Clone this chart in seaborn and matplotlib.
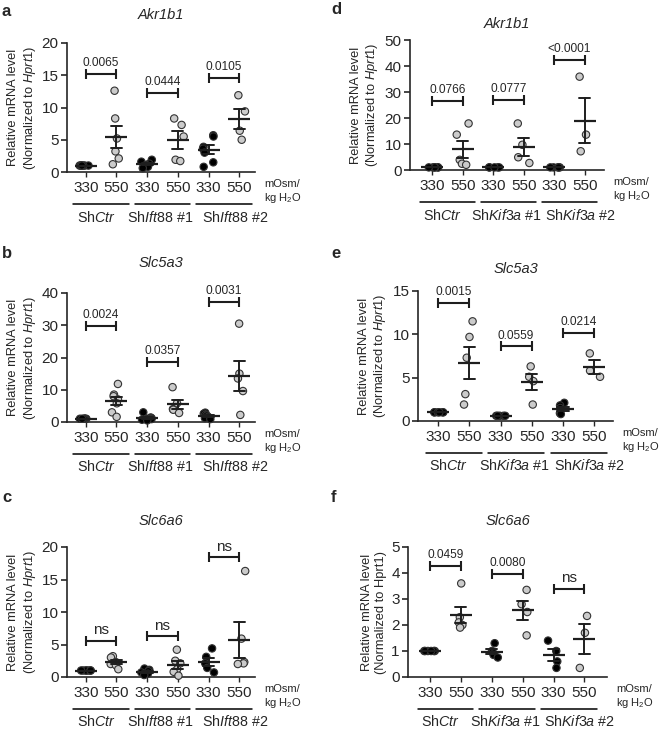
import numpy as np
import pandas as pd
import matplotlib
matplotlib.use('Agg')
import matplotlib.pyplot as plt
import seaborn as sns
from matplotlib.transforms import blended_transform_factory, ScaledTranslation

# ----- DATA -----
osm_levels = ['330', '550']
groups_ift = ['Sh$\\mathit{Ctr}$', 'Sh$\\mathit{Ift88}$ #1', 'Sh$\\mathit{Ift88}$ #2']
groups_kif = ['Sh$\\mathit{Ctr}$', 'Sh$\\mathit{Kif3a}$ #1', 'Sh$\\mathit{Kif3a}$ #2']

# a - Akr1b1 (Ift88)
a_330 = [[1.0, 1.0, 1.0, 1.0, 1.0, 1.0, 1.0], [1.9, 1.6, 1.3, 1.1, 0.8, 0.6], [5.7, 5.5, 3.9, 3.6, 3.0, 1.5, 0.8]]
a_550 = [[12.6, 8.3, 5.2, 3.2, 2.1, 1.2], [8.3, 7.3, 5.5, 1.9, 1.7], [11.9, 9.4, 6.4, 5.0]]
a_p = ['0.0065', '0.0444', '0.0105']
a_py = [15.2, 12.3, 14.6]

# b - Slc5a3 (Ift88)
b_330 = [[1.0, 1.0, 1.0, 1.0, 1.0, 1.0, 1.0], [3.0, 1.4, 1.2, 1.0, 0.9, 0.7, 0.5], [2.9, 2.6, 2.2, 2.0, 1.6, 1.2, 0.9]]
b_550 = [[11.8, 8.5, 8.0, 7.0, 5.8, 3.0, 1.6], [10.8, 5.8, 4.0, 3.8, 2.8], [30.5, 15.0, 13.5, 9.6, 2.2]]
b_p = ['0.0024', '0.0357', '0.0031']
b_py = [29.9, 18.5, 37.3]

# c - Slc6a6 (Ift88)
c_330 = [[1.0, 1.0, 1.0, 1.0, 1.0, 1.0, 1.0], [1.3, 1.1, 0.9, 0.7, 0.5, 0.3], [4.4, 3.1, 2.1, 1.4, 0.7]]
c_550 = [[3.2, 3.0, 2.3, 2.0, 1.8, 1.2], [4.2, 2.5, 2.1, 1.2, 0.8, 0.2], [16.3, 5.9, 2.3, 2.1, 2.0]]
c_p = ['ns', 'ns', 'ns']
c_py = [5.6, 6.25, 18.4]

# d - Akr1b1 (Kif3a)
d_330 = [[1.0, 1.0, 1.0, 1.0, 1.0, 1.0], [1.0, 1.0, 1.0, 1.0, 1.0], [1.0, 1.0, 1.0, 1.0, 1.0]]
d_550 = [[17.9, 13.6, 3.9, 2.4, 2.0], [17.9, 9.7, 4.9, 2.7], [35.9, 13.6, 7.2]]
d_p = ['0.0766', '0.0777', '<0.0001']
d_py = [26.6, 27.0, 42.3]

# e - Slc5a3 (Kif3a)
e_330 = [[1.0, 1.0, 1.0, 1.0, 1.0, 1.0], [0.6, 0.6, 0.6, 0.6, 0.6], [2.1, 1.8, 1.5, 0.9, 0.8]]
e_550 = [[11.5, 9.7, 7.3, 3.1, 1.9], [6.3, 5.1, 4.6, 1.9], [7.8, 5.8, 5.1]]
e_p = ['0.0015', '0.0559', '0.0214']
e_py = [13.65, 8.6, 10.2]

# f - Slc6a6 (Kif3a)
f_330 = [[1.0, 1.0, 1.0, 1.0, 1.0, 1.0], [1.3, 1.0, 0.95, 0.85, 0.75], [1.4, 1.0, 0.6, 0.35]]
f_550 = [[3.6, 2.3, 2.1, 2.0, 1.9], [3.35, 2.8, 2.5, 1.6], [2.35, 1.7, 0.35]]
f_p = ['0.0459', '0.0080', 'ns']
f_py = [4.26, 3.97, 3.4]

# ----- style -----
sns.set_style('ticks')
plt.rcParams['font.family'] = ['Liberation Sans', 'DejaVu Sans']
plt.rcParams['mathtext.fontset'] = 'custom'
plt.rcParams['mathtext.rm'] = 'Liberation Sans'
plt.rcParams['mathtext.it'] = 'Liberation Sans:italic'
plt.rcParams['axes.linewidth'] = 1.2

fig = plt.figure(figsize=(6.6, 7.29), dpi=100)
PX = 0.72  # points per pixel
label_shift = [-5, -2, 11]  # px, group labels sit a bit off the pair centre


def rect(l, r, t, b):
    return [l / 660, 1 - b / 729, (r - l) / 660, (b - t) / 729]


def panel(box, xlim, d330, d550, groups, title, ymax, ystep, pvals, py,
          title_pad, letter, letter_xy, italic_hprt=True, seed=0):
    ax = fig.add_axes(rect(*box))
    rows = []
    for g in range(3):
        for v in d330[g]:
            rows.append((f'{g}-330', '330', v))
        for v in d550[g]:
            rows.append((f'{g}-550', '550', v))
    df = pd.DataFrame(rows, columns=['cond', 'osm', 'value'])
    order = [f'{g}-{o}' for g in range(3) for o in osm_levels]

    np.random.seed(seed)
    sns.stripplot(data=df, x='cond', y='value', hue='osm', order=order,
                  palette={'330': 'black', '550': '#cbcbcb'}, jitter=0.2,
                  size=5.3, linewidth=0.8, edgecolor='#333333', legend=False,
                  ax=ax, zorder=3, clip_on=False)
    sns.pointplot(data=df, x='cond', y='value', order=order, errorbar='se',
                  capsize=0.36, linestyle='none', marker='_', markersize=16,
                  markeredgewidth=1.6, color='#1e1e1e',
                  err_kws={'linewidth': 1.4}, ax=ax, zorder=4)

    ax.set_xlim(*xlim)
    ax.set_ylim(0, ymax)
    ax.set_yticks(np.arange(0, ymax + 0.01, ystep))
    ax.set_xticks(range(6))
    ax.set_xticklabels(osm_levels * 3)
    ax.set_xlabel('')
    hp = '$\\mathit{Hprt1}$' if italic_hprt else 'Hprt1'
    ax.set_ylabel('Relative mRNA level\n(Normalized to ' + hp + ')', fontsize=9.3, labelpad=3)
    ax.tick_params(axis='y', length=4, width=1.2, labelsize=11, pad=2)
    ax.tick_params(axis='x', length=3.5, width=1.0, labelsize=11, pad=3)
    sns.despine(ax=ax)
    ax.set_title(title, style='italic', fontsize=10.5, pad=title_pad)

    # significance brackets
    for i in range(3):
        x0, x1 = 2 * i, 2 * i + 1
        ax.plot([x0, x1], [py[i], py[i]], color='#1e1e1e', lw=1.5,
                marker='|', markersize=7, markeredgewidth=1.5, clip_on=False)
        big = pvals[i] == 'ns'
        ax.annotate(pvals[i], ((x0 + x1) / 2, py[i]), xytext=(0, 3.5 if not big else 2.5),
                    textcoords='offset points', ha='center', va='bottom',
                    fontsize=11 if big else 8.6)

    # group underlines and labels
    blend = blended_transform_factory(ax.transData, ax.transAxes)
    under = blend + ScaledTranslation(0, -32 / 100, fig.dpi_scale_trans)
    for i in range(3):
        c = 2 * i + 0.5
        ax.plot([c - 0.9, c + 0.9], [0, 0], transform=under, color='black',
                lw=1.1, clip_on=False)
        ax.annotate(groups[i], (c, 0), xycoords=blend,
                    xytext=(label_shift[i] * PX, -45 * PX),
                    textcoords='offset points', ha='center', va='center', fontsize=10.3)
    ax.annotate('mOsm/\nkg H$_2$O', (1, 0), xycoords='axes fraction',
                xytext=(9 * PX, -20 * PX), textcoords='offset points',
                ha='left', va='center', fontsize=8, linespacing=1.25)

    fig.text(letter_xy[0] / 660, 1 - letter_xy[1] / 729, letter,
             fontsize=12, fontweight='bold', ha='left', va='center')
    return ax


panel((67, 255, 43, 172), (-0.61, 5.51), a_330, a_550, groups_ift, 'Akr1b1',
      20, 5, a_p, a_py, 17, 'a', (2, 11), seed=1)
panel((67, 255, 293, 422), (-0.61, 5.51), b_330, b_550, groups_ift, 'Slc5a3',
      40, 10, b_p, b_py, 18.5, 'b', (2, 254), seed=2)
panel((67, 255, 547, 677), (-0.61, 5.51), c_330, c_550, groups_ift, 'Slc6a6',
      20, 5, c_p, c_py, 16, 'c', (2, 497), seed=3)
panel((410, 604, 40, 170), (-0.73, 5.63), d_330, d_550, groups_kif, 'Akr1b1',
      50, 10, d_p, d_py, 8.6, 'd', (331, 9), seed=4)
panel((418, 613, 291, 421), (-0.64, 5.60), e_330, e_550, groups_kif, 'Slc5a3',
      15, 5, e_p, e_py, 13, 'e', (331, 254), seed=5)
panel((408, 607, 547, 677), (-0.71, 5.73), f_330, f_550, groups_kif, 'Slc6a6',
      5, 1, f_p, f_py, 16, 'f', (331, 497), italic_hprt=False, seed=6)

fig.savefig('out.png', dpi=100)
